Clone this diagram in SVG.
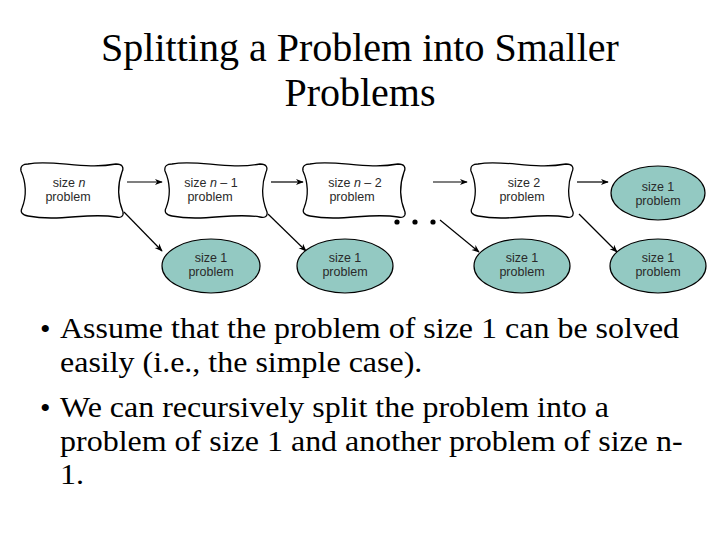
<svg xmlns="http://www.w3.org/2000/svg" width="720" height="540" viewBox="0 0 720 540">
<style>
.title{font-family:"Liberation Serif","Times New Roman",serif;font-size:40px;fill:#000;text-anchor:middle}
.body{font-family:"Liberation Serif","Times New Roman",serif;font-size:30px;fill:#000}
.lbl{font-family:"Liberation Sans",Arial,sans-serif;font-size:12.5px;fill:#2a2a2a;text-anchor:middle}
.wavy{fill:#fff;stroke:#000;stroke-width:1.3}
.oval{fill:#93c9c2;stroke:#000;stroke-width:1.2}
.conn{stroke:#000;stroke-width:1.2;fill:none;marker-end:url(#ah)}
</style>
<defs>
<marker id="ah" viewBox="0 0 10 10" refX="9" refY="5" markerWidth="8" markerHeight="8" orient="auto" markerUnits="userSpaceOnUse">
<path d="M0,1 L10,5 L0,9 L3,5 Z" fill="#000"/>
</marker>
<path id="wv" d="M8,2 C32,-3 64,8 96,2 C103,2 104,6 102,10 C97,24 98,38 103,50 C104,55 100,56 96,55 C68,50 40,60 8,54 C2,53 0,50 2,46 C7,34 6,20 1,9 C0,4 3,2 8,2 Z"/>
</defs>
<g id="title">
<text class="title" x="360" y="61">Splitting a Problem into Smaller</text>
<text class="title" x="360" y="106">Problems</text>
</g>
<g id="connectors">
<line class="conn" x1="127" y1="182" x2="162" y2="182"/>
<line class="conn" x1="271" y1="182" x2="303" y2="182"/>
<line class="conn" x1="433" y1="182" x2="467" y2="182"/>
<line class="conn" x1="577" y1="182" x2="608" y2="182"/>
<line class="conn" x1="124" y1="212" x2="162" y2="251"/>
<line class="conn" x1="268" y1="214" x2="306" y2="251"/>
<line class="conn" x1="440" y1="220" x2="479" y2="252"/>
<line class="conn" x1="579" y1="214" x2="617" y2="252"/>
</g>
<g id="dots">
<circle cx="397" cy="222" r="2.6"/>
<circle cx="415" cy="222" r="2.6"/>
<circle cx="433" cy="222" r="2.6"/>
</g>
<g id="n1"><use href="#wv" class="wavy" x="20" y="162"/>
<text class="lbl" x="69" y="187">size <tspan font-style="italic">n</tspan></text>
<text class="lbl" x="68" y="201">problem</text></g>
<g id="n2"><use href="#wv" class="wavy" x="164" y="162"/>
<text class="lbl" x="211" y="187">size <tspan font-style="italic">n</tspan> – 1</text>
<text class="lbl" x="210" y="201">problem</text></g>
<g id="n3"><use href="#wv" class="wavy" x="302" y="162"/>
<text class="lbl" x="355" y="187">size <tspan font-style="italic">n</tspan> – 2</text>
<text class="lbl" x="352" y="201">problem</text></g>
<g id="n4"><use href="#wv" class="wavy" x="470" y="162"/>
<text class="lbl" x="524" y="187">size 2</text>
<text class="lbl" x="522" y="201">problem</text></g>
<g id="s0"><ellipse class="oval" cx="658" cy="193" rx="47" ry="27"/>
<text class="lbl" x="658" y="191">size 1</text>
<text class="lbl" x="658" y="205">problem</text></g>
<g id="s1"><ellipse class="oval" cx="211" cy="266" rx="49" ry="27"/>
<text class="lbl" x="211" y="262">size 1</text>
<text class="lbl" x="211" y="276">problem</text></g>
<g id="s2"><ellipse class="oval" cx="345" cy="266" rx="48" ry="27"/>
<text class="lbl" x="345" y="262">size 1</text>
<text class="lbl" x="345" y="276">problem</text></g>
<g id="s3"><ellipse class="oval" cx="522" cy="266" rx="48" ry="27"/>
<text class="lbl" x="522" y="262">size 1</text>
<text class="lbl" x="522" y="276">problem</text></g>
<g id="s4"><ellipse class="oval" cx="658" cy="266" rx="48" ry="27"/>
<text class="lbl" x="658" y="262">size 1</text>
<text class="lbl" x="658" y="276">problem</text></g>
<g id="bullets">
<text class="body" x="40" y="339">•</text>
<text class="body" x="40" y="418">•</text>
<g transform="translate(60,0) scale(1.0667,1)">
<text class="body" x="0" y="338.5">Assume that the problem of size 1 can be solved</text>
<text class="body" x="0" y="372">easily (i.e., the simple case).</text>
<text class="body" x="0" y="417.5">We can recursively split the problem into a</text>
<text class="body" x="0" y="451">problem of size 1 and another problem of size n-</text>
<text class="body" x="0" y="484.5">1.</text>
</g>
</g>
</svg>
